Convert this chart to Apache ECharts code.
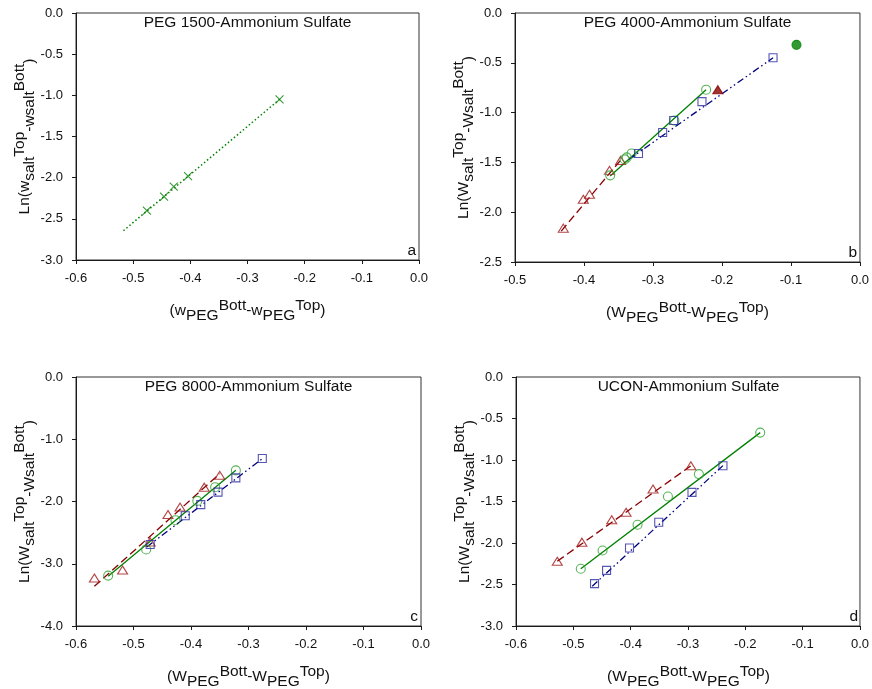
<!DOCTYPE html>
<html>
<head>
<meta charset="utf-8">
<script src="https://cdn.jsdelivr.net/npm/echarts@6/dist/echarts.min.js"></script>
<style>
  html, body { margin: 0; padding: 0; background: #fff; }
  #chart { width: 872px; height: 689px; }
</style>
</head>
<body>
<div id="chart"></div>
<script>
// ---- Panel a: PEG 1500 - Ammonium Sulfate ----
const aCrossX = [-0.476, -0.446, -0.429, -0.404, -0.244];
const aCrossY = [-2.40, -2.23, -2.11, -1.98, -1.05];
const aFitX = [-0.517, -0.244];
const aFitY = [-2.644, -1.05];

// ---- Panel b: PEG 4000 - Ammonium Sulfate ----
const bTriX = [-0.430, -0.401, -0.392, -0.363, -0.347];
const bTriY = [-2.16, -1.87, -1.82, -1.58, -1.48];
const bCirX = [-0.362, -0.341, -0.338, -0.331, -0.269, -0.223];
const bCirY = [-1.63, -1.47, -1.45, -1.41, -1.08, -0.77];
const bSqX = [-0.321, -0.286, -0.270, -0.229, -0.126];
const bSqY = [-1.41, -1.20, -1.08, -0.89, -0.45];
const bTriFilled = [-0.206, -0.77];
const bCirFilled = [-0.092, -0.32];
const bFitTriX = [-0.433, -0.346], bFitTriY = [-2.19, -1.47];
const bFitCirX = [-0.362, -0.223], bFitCirY = [-1.637, -0.770];
const bFitSqX = [-0.335, -0.126], bFitSqY = [-1.47, -0.45];

// ---- Panel c: PEG 8000 - Ammonium Sulfate ----
const cTriX = [-0.568, -0.519, -0.471, -0.440, -0.419, -0.377, -0.350];
const cTriY = [-3.23, -3.10, -2.65, -2.21, -2.09, -1.77, -1.58];
const cCirX = [-0.544, -0.478, -0.427, -0.389, -0.358, -0.322];
const cCirY = [-3.19, -2.77, -2.30, -1.99, -1.77, -1.50];
const cSqX = [-0.471, -0.410, -0.383, -0.353, -0.322, -0.276];
const cSqY = [-2.69, -2.23, -2.05, -1.85, -1.62, -1.31];
const cFitTriX = [-0.568, -0.350], cFitTriY = [-3.363, -1.553];
const cFitCirX = [-0.544, -0.322], cFitCirY = [-3.202, -1.499];
const cFitSqX = [-0.477, -0.276], cFitSqY = [-2.731, -1.312];

// ---- Panel d: UCON - Ammonium Sulfate ----
const dTriX = [-0.528, -0.485, -0.433, -0.408, -0.361, -0.295];
const dTriY = [-2.22, -1.99, -1.72, -1.63, -1.35, -1.07];
const dCirX = [-0.487, -0.449, -0.388, -0.335, -0.281, -0.174];
const dCirY = [-2.31, -2.09, -1.78, -1.44, -1.17, -0.67];
const dSqX = [-0.463, -0.442, -0.402, -0.351, -0.293, -0.239];
const dSqY = [-2.49, -2.33, -2.06, -1.75, -1.39, -1.07];
const dFitTriX = [-0.528, -0.295], dFitTriY = [-2.22, -1.07];
const dFitCirX = [-0.487, -0.174], dFitCirY = [-2.31, -0.67];
const dFitSqX = [-0.467, -0.239], dFitSqY = [-2.52, -1.068];

// ---- Axis ranges (min, max, interval) ----
const xRanges = [[-0.6, 0, 0.1], [-0.5, 0, 0.1], [-0.6, 0, 0.1], [-0.6, 0, 0.1]];
const yRanges = [[-3, 0, 0.5], [-2.5, 0, 0.5], [-4, 0, 1], [-3, 0, 0.5]];

const panelTitles = ['PEG 1500-Ammonium Sulfate', 'PEG 4000-Ammonium Sulfate',
                     'PEG 8000-Ammonium Sulfate', 'UCON-Ammonium Sulfate'];
const panelLetters = ['a', 'b', 'c', 'd'];
const weightSymbol = ['w', 'W', 'W', 'W'];

const FONT = '"Liberation Sans", Arial, Helvetica, sans-serif';
const RED_LINE = '#8b0000', RED_MARK = '#a01818';
const GREEN_LINE = '#008000', GREEN_MARK = '#2ea02e';
const BLUE_LINE = '#000080', BLUE_MARK = '#2b2ba0';

const grids = [
  { left: 76, top: 13, width: 343, height: 247 },
  { left: 515, top: 13, width: 345, height: 249 },
  { left: 76, top: 377, width: 345, height: 249 },
  { left: 516, top: 377, width: 345, height: 249 }
];

function pairs(xs, ys) { return xs.map((x, i) => [x, ys[i]]); }

function marks(gi, xs, ys, symbol, size, color, filled) {
  return {
    type: 'scatter', xAxisIndex: gi, yAxisIndex: gi, silent: true, z: 4,
    data: pairs(xs, ys), symbol: symbol, symbolSize: size,
    itemStyle: { color: filled ? color : 'rgba(0,0,0,0)', borderColor: color, borderWidth: 1.1 }
  };
}

function fitLine(gi, xs, ys, color, type, width) {
  return {
    type: 'line', xAxisIndex: gi, yAxisIndex: gi, silent: true, z: 3,
    data: pairs(xs, ys), symbol: 'none', showSymbol: false,
    lineStyle: { color: color, type: type, width: width }
  };
}

const axisColor = '#1a1a1a';
function xAxisCfg(gi) {
  const r = xRanges[gi];
  return {
    type: 'value', gridIndex: gi, min: r[0], max: r[1], interval: r[2],
    axisLine: { show: true, onZero: false, lineStyle: { color: axisColor, width: 1 } },
    axisTick: { show: true, inside: false, length: 4, lineStyle: { color: axisColor } },
    axisLabel: { fontFamily: FONT, fontSize: 13, color: '#111', margin: 12,
                 formatter: v => v.toFixed(1) },
    splitLine: { show: false }
  };
}
function yAxisCfg(gi) {
  const r = yRanges[gi];
  return {
    type: 'value', gridIndex: gi, min: r[0], max: r[1], interval: r[2],
    axisLine: { show: true, onZero: false, lineStyle: { color: axisColor, width: 1 } },
    axisTick: { show: true, inside: false, length: 4, lineStyle: { color: axisColor } },
    axisLabel: { fontFamily: FONT, fontSize: 13, color: '#111', margin: 13,
                 formatter: v => v.toFixed(1) },
    splitLine: { show: false }
  };
}

const crossPath = 'path://M0,0L10,10M10,0L0,10';

const series = [
  // a
  fitLine(0, aFitX, aFitY, GREEN_LINE, [1.5, 2.4], 1.5),
  marks(0, aCrossX, aCrossY, crossPath, 8, GREEN_LINE, false),
  // b
  fitLine(1, bFitTriX, bFitTriY, RED_LINE, [8, 4], 1.3),
  fitLine(1, bFitCirX, bFitCirY, GREEN_LINE, 'solid', 1.3),
  fitLine(1, bFitSqX, bFitSqY, BLUE_LINE, [7, 3, 1.5, 3, 1.5, 3], 1.3),
  marks(1, bTriX, bTriY, 'triangle', [10, 8], RED_MARK, false),
  marks(1, bCirX, bCirY, 'circle', 9, GREEN_MARK, false),
  marks(1, bSqX, bSqY, 'rect', 8, BLUE_MARK, false),
  marks(1, [bTriFilled[0]], [bTriFilled[1]], 'triangle', [10, 8], RED_LINE, true),
  marks(1, [bCirFilled[0]], [bCirFilled[1]], 'circle', 9, GREEN_LINE, true),
  // c
  fitLine(2, cFitTriX, cFitTriY, RED_LINE, [8, 4], 1.3),
  fitLine(2, cFitCirX, cFitCirY, GREEN_LINE, 'solid', 1.3),
  fitLine(2, cFitSqX, cFitSqY, BLUE_LINE, [7, 3, 1.5, 3, 1.5, 3], 1.3),
  marks(2, cTriX, cTriY, 'triangle', [10, 8], RED_MARK, false),
  marks(2, cCirX, cCirY, 'circle', 9, GREEN_MARK, false),
  marks(2, cSqX, cSqY, 'rect', 8, BLUE_MARK, false),
  // d
  fitLine(3, dFitTriX, dFitTriY, RED_LINE, [8, 4], 1.3),
  fitLine(3, dFitCirX, dFitCirY, GREEN_LINE, 'solid', 1.3),
  fitLine(3, dFitSqX, dFitSqY, BLUE_LINE, [7, 3, 1.5, 3, 1.5, 3], 1.3),
  marks(3, dTriX, dTriY, 'triangle', [10, 8], RED_MARK, false),
  marks(3, dCirX, dCirY, 'circle', 9, GREEN_MARK, false),
  marks(3, dSqX, dSqY, 'rect', 8, BLUE_MARK, false)
];

// Rich-text styles for the sub/superscripted axis titles
const TITLE_SIZE = 15.5;
const richStyles = {
  m: { fontFamily: FONT, fontSize: TITLE_SIZE, fill: '#111', lineHeight: 26, verticalAlign: 'middle' },
  b: { fontFamily: FONT, fontSize: TITLE_SIZE, fill: '#111', lineHeight: 17, verticalAlign: 'bottom' },
  t: { fontFamily: FONT, fontSize: TITLE_SIZE, fill: '#111', lineHeight: 15, verticalAlign: 'top' }
};

const graphics = [];
grids.forEach((g, i) => {
  const cx = g.left + g.width / 2;
  const cy = g.top + g.height / 2;
  const w = weightSymbol[i];
  // panel title inside the plot frame
  graphics.push({
    type: 'text', x: cx, y: g.top + 9.5, silent: true, z: 10,
    style: { text: panelTitles[i], fontFamily: FONT, fontSize: TITLE_SIZE, fill: '#111',
             align: 'center', verticalAlign: 'middle' }
  });
  // panel letter, lower right corner
  graphics.push({
    type: 'text', x: g.left + g.width - 3, y: g.top + g.height - 9, silent: true, z: 10,
    style: { text: panelLetters[i], fontFamily: FONT, fontSize: TITLE_SIZE, fill: '#111',
             align: 'right', verticalAlign: 'middle' }
  });
  // x axis title
  graphics.push({
    type: 'text', x: cx, y: g.top + g.height + 51, silent: true, z: 10,
    style: {
      text: '{m|(' + w + '}{b|PEG}{t|Bott}{m|-' + w + '}{b|PEG}{t|Top}{m|)}',
      rich: richStyles, align: 'center', verticalAlign: 'middle'
    }
  });
  // y axis title, rotated to read bottom to top
  graphics.push({
    type: 'text', x: g.left - 51, y: cy, rotation: Math.PI / 2, silent: true, z: 10,
    style: {
      text: '{m|Ln(' + w + '}{b|salt}{t|Top}{b|-' + w + '}{b|salt}{t|Bott}{b|)}',
      rich: richStyles, align: 'center', verticalAlign: 'middle'
    }
  });
});

const chart = echarts.init(document.getElementById('chart'), null, { renderer: 'canvas' });
chart.setOption({
  animation: false,
  backgroundColor: '#ffffff',
  grid: grids.map(g => Object.assign({ show: true, borderColor: '#333', borderWidth: 1,
                                       backgroundColor: 'rgba(0,0,0,0)' }, g)),
  xAxis: [0, 1, 2, 3].map(xAxisCfg),
  yAxis: [0, 1, 2, 3].map(yAxisCfg),
  series: series,
  graphic: graphics
});
</script>
</body>
</html>
